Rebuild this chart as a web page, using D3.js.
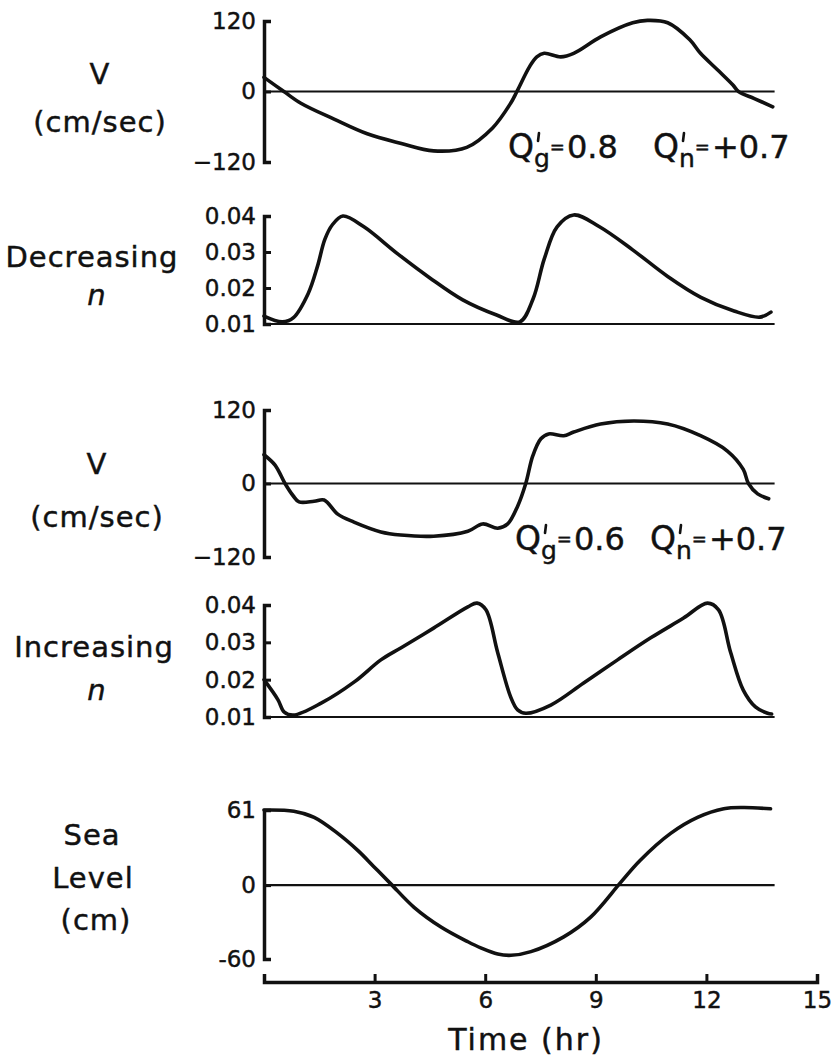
<!DOCTYPE html>
<html>
<head>
<meta charset="utf-8">
<script src="https://cdn.jsdelivr.net/npm/d3@7"></script>
<style>
body{margin:0;background:#fff}
text{font-family:"DejaVu Sans",sans-serif;fill:#111;stroke:#111;stroke-width:0.45px}
</style>
</head>
<body>
<div id="wrapper"></div>
<script>
// Data (time in hours)
const timeV1 = [0,0.54,1.0,1.9,2.8,3.7,4.6,5.5,6.2,6.69,6.86,7.2,7.4,7.6,8.05,8.4,9.13,10.0,10.4,10.95,11.55,11.84,12.3,12.72,12.87,13.3,13.8];
const velocityDec = [24,0,-20,-47,-72,-88,-101,-95,-62,-20,0,42,59,65,59,65,93,117,121,117,88,65,37,11,0,-12,-26];

const timeN1 = [0,0.5,0.8,1.2,1.45,1.65,1.85,2.14,2.71,3.6,4.5,5.39,6.31,6.94,7.3,7.6,7.95,8.4,9.1,10.0,10.95,11.85,12.75,13.45,13.75];
const nDecreasing = [0.0122,0.0106,0.0118,0.0185,0.026,0.0335,0.0375,0.0400,0.0370,0.0297,0.0228,0.0167,0.0125,0.0106,0.0170,0.0280,0.0370,0.0403,0.0370,0.0306,0.0232,0.0174,0.0136,0.0119,0.0133];

const timeV2 = [0,0.3,0.57,0.79,0.95,1.36,1.63,2.0,2.44,3.17,3.71,4.6,5.53,5.93,6.34,6.61,6.88,7.1,7.29,7.51,7.72,8.13,8.4,9.13,10.03,10.95,11.84,12.57,13.0,13.14,13.39,13.69];
const velocityInc = [47,30,0,-20,-30,-29,-27,-50,-63,-79,-84,-86,-78,-66,-73,-66,-37,0,45,73,81,78,84,97,102,97,78,53,23,0,-17,-25];

const timeN2 = [0,0.38,0.55,0.8,1.55,2.45,3.17,3.71,4.6,5.53,5.78,6.02,6.34,6.69,6.88,7.1,7.78,8.67,9.59,10.49,11.38,12.03,12.33,12.66,13.0,13.33,13.66,13.77];
const nIncreasing = [0.0200,0.0146,0.0113,0.0105,0.0137,0.0194,0.0253,0.0285,0.0338,0.0395,0.0405,0.0387,0.0272,0.0154,0.0119,0.0110,0.0132,0.0191,0.0253,0.0312,0.0365,0.0405,0.0387,0.0272,0.0172,0.0127,0.0110,0.0108];

const timeSea = [0,0.81,1.36,2.0,2.55,2.98,3.44,4.07,4.8,5.53,5.88,6.34,6.7,7.24,8.13,8.86,9.67,10.2,11.03,11.76,12.47,13.0,13.74];
const seaLevel = [61,60,55,42,28,15,1,-18,-34,-46,-51,-56,-57,-54,-42,-26,2,20,42,55,62,63,62];

const vTicks = [-120,0,120];
const vTickLabels = ['\u2212120','0','120'];
const nTicks = [0.01,0.02,0.03,0.04];
const nTickLabels = ['0.01','0.02','0.03','0.04'];
const seaTicks = [-60,0,61];
const seaTickLabels = ['-60','0','61'];
const timeTicks = [3,6,9,12,15];
const timeTickLabels = ['3','6','9','12','15'];

const qgValues = ['0.8','0.6'];
const qnValues = ['+0.7','+0.7'];

// Layout
const width = 832, height = 1059;
const lineEnd = 13.85;
const svg = d3.select('#wrapper').append('svg')
  .attr('width',width).attr('height',height);

const x = d3.scaleLinear().domain([0,15]).range([264,817]);

const panels = [
  {t:timeV1, v:velocityDec, domain:[-120,120], range:[162,21], ticks:vTicks, labels:vTickLabels, base:0,
   side:[{s:'V',x:100,y:84},{s:'(cm/sec)',x:100,y:132}]},
  {t:timeN1, v:nDecreasing, domain:[0.01,0.04], range:[324,216], ticks:nTicks, labels:nTickLabels, base:0.01,
   side:[{s:'Decreasing',x:92,y:267},{s:'n',x:97,y:305,it:true}]},
  {t:timeV2, v:velocityInc, domain:[-120,120], range:[557,410], ticks:vTicks, labels:vTickLabels, base:0,
   side:[{s:'V',x:97,y:474},{s:'(cm/sec)',x:97,y:527}]},
  {t:timeN2, v:nIncreasing, domain:[0.01,0.04], range:[717,605], ticks:nTicks, labels:nTickLabels, base:0.01,
   side:[{s:'Increasing',x:94,y:657},{s:'n',x:97,y:700,it:true}]},
  {t:timeSea, v:seaLevel, domain:[-60,61], range:[959,810], ticks:seaTicks, labels:seaTickLabels, base:0,
   side:[{s:'Sea',x:92,y:845},{s:'Level',x:93,y:888},{s:'(cm)',x:96,y:930}]}
];

panels.forEach(p=>{
  const y = d3.scaleLinear().domain(p.domain).range(p.range);
  const g = svg.append('g');
  // y axis, ticks pointing inward
  const axis = d3.axisLeft(y).tickValues(p.ticks)
    .tickFormat((d,i)=>p.labels[i])
    .tickSize(-7).tickSizeOuter(-7).tickPadding(8);
  g.append('g').attr('transform',`translate(${x(0)},0)`).call(axis)
    .attr('font-size',23).attr('font-family','DejaVu Sans')
    .call(a=>a.select('.domain').attr('stroke','#111').attr('stroke-width',3.5))
    .call(a=>a.selectAll('.tick line').attr('stroke','#111').attr('stroke-width',3))
    .call(a=>a.selectAll('.tick text').attr('fill','#111'));
  // reference line
  g.append('line')
    .attr('x1',x(0)).attr('x2',x(lineEnd))
    .attr('y1',y(p.base)).attr('y2',y(p.base))
    .attr('stroke','#111').attr('stroke-width',2.2);
  // curve
  const pts = p.t.map((t,i)=>[t,p.v[i]]);
  const line = d3.line().x(d=>x(d[0])).y(d=>y(d[1])).curve(d3.curveCatmullRom.alpha(0.5));
  g.append('path').datum(pts).attr('d',line)
    .attr('fill','none').attr('stroke','#111').attr('stroke-width',3.6)
    .attr('stroke-linejoin','round').attr('stroke-linecap','round');
  // side labels
  p.side.forEach(l=>{
    g.append('text').attr('x',l.x).attr('y',l.y)
      .attr('text-anchor','middle').attr('font-size',29)
      .attr('letter-spacing',1)
      .attr('font-style',l.it?'italic':null)
      .text(l.s);
  });
});

// time axis
const xAxis = d3.axisBottom(x).tickValues(timeTicks)
  .tickFormat((d,i)=>timeTickLabels[i])
  .tickSize(-8).tickSizeOuter(-8).tickPadding(10);
svg.append('g').attr('transform','translate(0,982)').call(xAxis)
  .attr('font-size',23).attr('font-family','DejaVu Sans')
  .call(a=>a.select('.domain').attr('stroke','#111').attr('stroke-width',3.5))
  .call(a=>a.selectAll('.tick line').attr('stroke','#111').attr('stroke-width',3))
  .call(a=>a.selectAll('.tick text').attr('fill','#111'));
svg.append('text').attr('x',526).attr('y',1050)
  .attr('text-anchor','middle').attr('font-size',30).attr('letter-spacing',2)
  .text('Time (hr)');

// Q' annotations: prime drawn as a short stroke above the subscript
function drawQ(x0, yb, sub, value){
  svg.append('line')
    .attr('x1',x0+31).attr('y1',yb-25).attr('x2',x0+30).attr('y2',yb-17)
    .attr('stroke','#111').attr('stroke-width',2.6).attr('stroke-linecap','round');
  const t = svg.append('text').attr('x',x0).attr('y',yb);
  t.append('tspan').attr('font-size',33).text('Q');
  t.append('tspan').attr('font-size',25).attr('dx',0).attr('dy',9).text(sub);
  t.append('tspan').attr('font-size',18).attr('dx',0).attr('dy',-14).text('=');
  t.append('tspan').attr('font-size',32).attr('dx',2).attr('dy',5).text(value);
}
drawQ(508,158,'g',qgValues[0]);
drawQ(653,158,'n',qnValues[0]);
drawQ(515,550,'g',qgValues[1]);
drawQ(650,550,'n',qnValues[1]);
</script>
</body>
</html>
